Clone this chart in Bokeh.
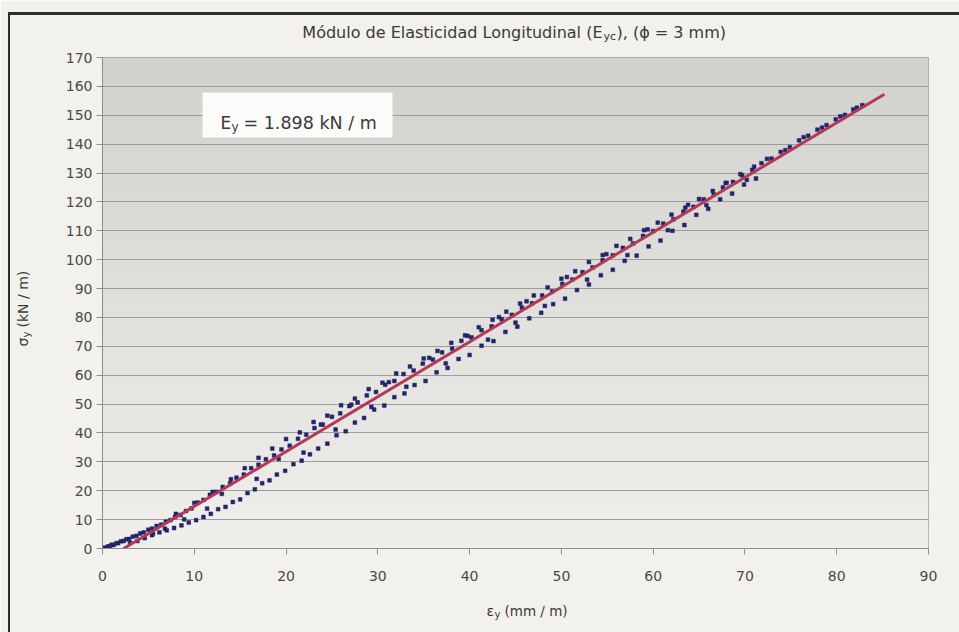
import numpy as np
from bokeh.plotting import figure
from bokeh.models import Label, BoxAnnotation, FixedTicker, Range1d, InlineStyleSheet
from bokeh.embed import file_html
from bokeh.resources import INLINE

# ---------------- data ----------------
# upper / main band of measured points (strain mm/m, stress kN/m)
eps_a = [0.0, 0.2, 0.4, 0.6, 0.8, 1.0, 1.2, 1.5, 1.7, 2.0, 2.3, 2.6, 2.9, 3.3, 3.7, 4.1, 4.5, 5.0, 5.4, 5.9,
         6.4, 6.9, 7.4, 7.9, 8.5, 9.1, 9.7, 10.4, 11.0, 11.7, 12.4, 13.1, 13.9, 14.6, 15.4, 16.2, 17.0, 17.8,
         18.7, 19.5, 20.4, 21.3, 22.2, 23.1, 24.0, 25.0, 25.9, 26.9, 27.8, 28.8, 29.8, 30.8, 31.8, 32.8, 33.9,
         34.9, 36.0, 37.0, 38.1, 39.1, 40.2, 41.3, 42.4, 43.5, 44.6, 45.7, 46.8, 47.9, 49.0, 50.1, 51.2, 52.3,
         53.4, 54.5, 55.6, 56.7, 57.8, 58.9, 60.0, 61.1, 62.2, 63.3, 64.4, 65.5, 66.6, 67.6, 68.7, 69.7, 70.8,
         71.8, 72.9, 73.9, 74.9, 75.9, 76.9, 77.9, 78.9, 79.9, 80.9, 81.8, 82.8]
sig_a = [0.1, 0.3, 0.2, 0.7, 0.8, 1.3, 1.2, 1.8, 1.9, 2.5, 2.6, 3.2, 3.3, 4.1, 4.4, 5.2, 5.6, 6.5, 6.9, 7.8,
         8.3, 9.3, 9.8, 10.9, 11.6, 13.0, 13.9, 15.9, 16.8, 18.6, 19.6, 21.3, 22.6, 24.5, 25.6, 27.8, 29.0, 30.9,
         32.2, 34.3, 35.6, 38.0, 39.4, 41.7, 42.9, 45.6, 46.8, 49.3, 50.6, 53.0, 54.2, 56.7, 58.0, 60.4, 61.6,
         64.0, 65.4, 67.9, 69.2, 71.9, 73.1, 75.6, 76.9, 79.4, 80.9, 83.4, 84.9, 87.6, 89.0, 91.6, 93.1, 95.7,
         97.3, 99.8, 101.5, 104.1, 105.6, 108.2, 109.9, 112.5, 114.0, 116.6, 118.3, 120.9, 122.6, 125.0, 126.9,
         129.2, 131.1, 133.4, 135.0, 137.3, 139.0, 141.3, 142.9, 145.0, 146.6, 148.6, 150.1, 152.0, 153.5]

# lower band of measured points
eps_b = [3.0, 3.8, 4.6, 5.4, 6.2, 7.0, 7.8, 8.6, 9.4, 10.2, 11.0, 11.8, 12.6, 13.4, 14.2, 15.0, 15.8, 16.6,
         17.4, 18.2, 19.0, 19.9, 20.8, 21.7, 22.6, 23.5, 24.5, 25.5, 26.5, 27.5, 28.5, 29.6, 30.7, 31.8, 32.9,
         34.0, 35.2, 36.4, 37.6, 38.8, 40.0, 41.3, 42.6, 43.9, 45.2, 46.5, 47.8, 49.1, 50.4, 51.7, 53.0, 54.3,
         55.6, 56.9, 58.2, 59.5, 60.8, 62.1, 63.4, 64.7, 66.0, 67.3, 68.6, 69.9, 71.2]
sig_b = [2.0, 2.6, 3.6, 4.6, 5.6, 6.3, 7.1, 8.0, 9.0, 9.8, 10.9, 12.0, 13.6, 14.4, 16.1, 17.0, 19.2, 20.5,
         22.6, 23.6, 25.6, 26.9, 29.2, 30.4, 32.6, 34.6, 36.3, 39.2, 40.6, 43.6, 45.2, 48.1, 49.5, 52.4, 53.7,
         56.6, 58.0, 61.0, 62.5, 65.6, 67.0, 70.2, 71.8, 75.0, 76.8, 79.7, 81.6, 84.6, 86.5, 89.5, 91.4, 94.6,
         96.5, 99.6, 101.4, 104.6, 106.6, 110.0, 112.0, 115.5, 117.6, 120.9, 122.9, 126.0, 128.1]

# upper scatter of measured points
eps_c = [8.0, 10.0, 12.0, 14.0, 15.5, 17.0, 18.5, 20.0, 21.5, 23.0, 24.5, 26.0, 27.5, 29.0, 30.5, 32.0, 33.5,
         35.0, 36.5, 38.0, 39.5, 41.0, 42.5, 44.0, 45.5, 47.0, 48.5, 50.0, 51.5, 53.0, 54.5, 56.0, 57.5, 59.0,
         60.5, 62.0, 63.5, 65.0, 66.5, 68.0, 69.5, 71.0]
sig_c = [12.0, 15.8, 19.6, 24.0, 27.8, 31.4, 34.6, 37.9, 40.2, 43.8, 46.0, 49.6, 51.9, 55.2, 57.4, 60.6, 63.0,
         65.8, 68.4, 71.2, 73.8, 76.6, 79.2, 82.0, 84.8, 87.6, 90.4, 93.4, 96.0, 99.2, 101.6, 104.8, 107.2, 110.2,
         112.8, 115.6, 118.0, 121.0, 123.8, 126.6, 129.6, 132.2]

# scattered points around the fit
eps_d = [5.5, 6.8, 8.9, 11.4, 13.0, 16.8, 19.2, 21.9, 23.8, 25.4, 27.1, 29.3, 31.2, 33.1, 35.6, 37.4, 39.8,
         42.0, 43.2, 45.0, 46.2, 48.2, 50.6, 52.8, 54.9, 57.2, 59.4, 61.6, 63.8, 65.8, 67.9, 70.2, 72.4, 74.4,
         76.4, 78.4, 80.4, 82.2]
sig_d = [5.2, 6.9, 10.1, 13.8, 18.9, 24.1, 31.0, 33.2, 42.9, 41.2, 49.8, 49.0, 57.6, 56.0, 66.0, 64.1, 73.6,
         72.3, 80.1, 78.2, 85.6, 84.0, 94.0, 93.1, 101.9, 101.6, 110.5, 110.2, 119.0, 118.9, 126.6, 127.6, 134.9,
         137.9, 142.4, 145.7, 149.6, 152.6]

# fitted line (E_y = 1.898 kN/m)
trend_eps = [2.3, 85.2]
trend_sig = [0.0, 157.3]

x_ticks = [0, 10, 20, 30, 40, 50, 60, 70, 80, 90]
y_ticks = [0, 10, 20, 30, 40, 50, 60, 70, 80, 90, 100, 110, 120, 130, 140, 150, 160, 170]

FONT = "DejaVu Sans"
TXT = "#3a3a3a"

# dark page frame lines (top and left) drawn with CSS, outside the Bokeh layout
frame_css = InlineStyleSheet(css="""
:host { position: relative; }
:host::before { content: ""; position: absolute; left: 8px; top: 12px; width: 951px; height: 3px;
                background: #2e2e2e; z-index: 50; pointer-events: none; }
:host::after  { content: ""; position: absolute; left: 8px; top: 12px; width: 2px; height: 620px;
                background: #2e2e2e; z-index: 50; pointer-events: none; }
""")

# ---------------- figure ----------------
p = figure(width=959, height=632, x_range=Range1d(0, 90), y_range=Range1d(0, 170),
           output_backend="svg", toolbar_location=None,
           min_border_left=102, min_border_right=31, min_border_top=57, min_border_bottom=84,
           stylesheets=[frame_css])
p.border_fill_color = "#f2f1ec"
p.background_fill_color = "#e2e1de"
p.outline_line_color = "#a3a3a3"
p.outline_line_width = 1

# vertical grey gradient behind the plot area
ny = 256
t = np.linspace(0.0, 1.0, ny)
bot = np.array([0xf0, 0xef, 0xeb], dtype=float)
top = np.array([0xd2, 0xd1, 0xce], dtype=float)
rgb = bot[None, :] + (top - bot)[None, :] * t[:, None]
img = np.empty((ny, 1), dtype=np.uint32)
view = img.view(dtype=np.uint8).reshape((ny, 1, 4))
view[:, 0, 0] = rgb[:, 0].astype(np.uint8)
view[:, 0, 1] = rgb[:, 1].astype(np.uint8)
view[:, 0, 2] = rgb[:, 2].astype(np.uint8)
view[:, 0, 3] = 255
p.image_rgba(image=[img], x=p.x_range.start, y=p.y_range.start,
             dw=p.x_range.end - p.x_range.start, dh=p.y_range.end - p.y_range.start, level="image")

# grid / axes
p.xgrid.grid_line_color = None
p.ygrid.grid_line_color = "#9d9d9d"
p.ygrid.grid_line_width = 1
p.xaxis.ticker = FixedTicker(ticks=x_ticks)
p.yaxis.ticker = FixedTicker(ticks=y_ticks)
for ax in (p.xaxis[0], p.yaxis[0]):
    ax.axis_line_color = "#8c8c8c"
    ax.major_tick_line_color = "#8c8c8c"
    ax.major_tick_out = 6
    ax.major_tick_in = 0
    ax.minor_tick_line_color = None
    ax.major_label_text_font = FONT
    ax.major_label_text_font_size = "14px"
    ax.major_label_text_color = "#4a4a4a"
p.xaxis.major_label_standoff = 16
p.yaxis.major_label_standoff = 4

# points and fitted line
for ex, sy in ((eps_a, sig_a), (eps_b, sig_b), (eps_c, sig_c), (eps_d, sig_d)):
    p.scatter(ex, sy, marker="square", size=3.8, fill_color="#24246a", line_color="#24246a", line_width=0.5)
p.line(trend_eps, trend_sig, line_color="#b33a56", line_width=3)

# text box with modulus (inside the frame)
p.add_layout(BoxAnnotation(left=202, right=392, top=92, bottom=137,
                           left_units="canvas", right_units="canvas", top_units="canvas", bottom_units="canvas",
                           fill_color="#fbfbf9", fill_alpha=1.0, line_color=None, level="annotation"))

def lab(x, y, text, size, align="left", angle=0.0, place="center"):
    p.add_layout(Label(x=x, y=y, x_units="canvas", y_units="canvas", text=text, text_font=FONT,
                       text_font_size=f"{size}px", text_color=TXT, text_align=align,
                       text_baseline="alphabetic", angle=angle), place)

# box text: E_y = 1.898 kN / m
lab(220, 122, "E", 17)
lab(231, 126, "y", 12)
lab(243, 122, "= 1.898 kN / m", 17.5)

# title
lab(602, 32, "Módulo de Elasticidad Longitudinal (E", 16, align="right", place="above")
lab(603, 36, "yc", 11, place="above")
lab(616, 32, "), (ϕ = 3 mm)", 16, place="above")

# x axis label
lab(486, 610, "ε", 14, place="below")
lab(494, 614, "y", 10, place="below")
lab(504, 610, "(mm / m)", 13.5, place="below")

# y axis label (rotated)
lab(22, 346, "σ", 14, angle=np.pi / 2, place="left")
lab(26, 337, "y", 10, angle=np.pi / 2, place="left")
lab(22, 327, "(kN / m)", 14, angle=np.pi / 2, place="left")

open("out.html", "w").write(file_html(p, INLINE))
